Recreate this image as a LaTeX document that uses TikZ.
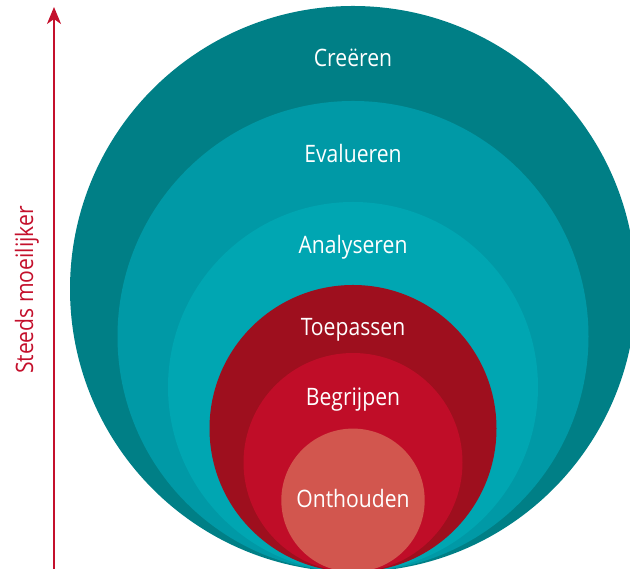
\documentclass[tikz,border=0pt]{standalone}
\usepackage{fontspec}
\newfontfamily\hand{Open Sans}
\usetikzlibrary{arrows.meta}
\definecolor{cCre}{RGB}{0,127,134}
\definecolor{cEva}{RGB}{0,153,166}
\definecolor{cAna}{RGB}{0,166,178}
\definecolor{cToe}{RGB}{158,15,30}
\definecolor{cBeg}{RGB}{192,13,40}
\definecolor{cOnt}{RGB}{210,86,78}
\definecolor{cArr}{RGB}{196,16,44}
\begin{document}
\begin{tikzpicture}[x=1pt,y=1pt,
  lbl/.style={text=white,font=\hand\fontsize{24}{28}\selectfont,inner sep=0pt,anchor=base},
  side/.style={text=cArr,font=\hand\fontsize{24}{28}\selectfont,inner sep=0pt,anchor=base,rotate=90}]
\useasboundingbox (0,0) rectangle (630,569);
\begin{scope}
\clip (0,0) rectangle (630,569);
\fill[cCre] (353,280) circle[radius=283pt];
\fill[cEva] (353,232.5) circle[radius=235.5pt];
\fill[cAna] (353,182) circle[radius=185pt];
\fill[cToe] (353,140.5) circle[radius=143.5pt];
\fill[cBeg] (353,106.5) circle[radius=109.5pt];
\fill[cOnt] (353,68.7) circle[radius=71.7pt];
\end{scope}
\node[lbl] (cre) at (353,502) {\scalebox{0.88}[1]{Creëren}};
\node[lbl] (eva) at (353,406) {\scalebox{0.88}[1]{Evalueren}};
\node[lbl] (ana) at (353,315) {\scalebox{0.88}[1]{Analyseren}};
\node[lbl] (toe) at (353,233) {\scalebox{0.88}[1]{Toepassen}};
\node[lbl] (beg) at (353,163) {\scalebox{0.88}[1]{Begrijpen}};
\node[lbl] (ont) at (353,61) {\scalebox{0.88}[1]{Onthouden}};
\coordinate (a0) at (54,0);
\coordinate (a1) at (54,562);
\draw[cArr,line width=2pt,-{Stealth[length=17pt,width=14pt,inset=5pt]}] (a0) -- (a1);
\node[side] (sm) at (33,279) {\scalebox{0.88}[1]{Steeds moeilijker}};
\end{tikzpicture}
\end{document}
